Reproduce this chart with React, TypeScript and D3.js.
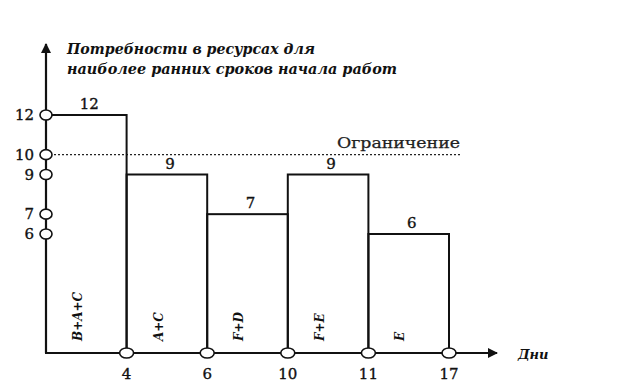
import React from "react";
import * as d3 from "d3";

const dayTicks = [0, 4, 6, 10, 11, 17];
const demands = [12, 9, 7, 9, 6];
const workLabels = ["B+A+C", "A+C", "F+D", "F+E", "E"];
const yMarks = [12, 10, 9, 7, 6];
const limitValue = 10;
const titleLines = ["Потребности в ресурсах для", "наиболее ранних сроков начала работ"];
const limitLabel = "Ограничение";
const xAxisLabel = "Дни";

export default function App() {
  const W = 625, H = 383;
  const x = d3.scalePoint<number>().domain(dayTicks).range([46, 449]);
  const y = d3.scaleLinear().domain([0, 12]).range([353, 115]);
  const serif = "DejaVu Serif";
  const bars = demands.map((v, i) => ({
    v,
    x0: x(dayTicks[i])!,
    x1: x(dayTicks[i + 1])!,
    label: workLabels[i],
  }));
  return (
    <svg width={W} height={H} style={{ position: "absolute", left: 0, top: 0, background: "#fff" }}>
      <defs>
        <marker id="arr" viewBox="0 0 10 10" refX="9" refY="5" markerWidth="10" markerHeight="12" markerUnits="userSpaceOnUse" orient="auto">
          <path d="M0,0 L10,5 L0,10 z" fill="#111" />
        </marker>
      </defs>
      <line x1={x(0)} x2={462} y1={y(limitValue)} y2={y(limitValue)} stroke="#222" strokeWidth={1.3} strokeDasharray="2,2" />
      <text x={337} y={y(limitValue) - 7} fontFamily={serif} fontSize={14} fill="#222" stroke="#222" strokeWidth={0.25} textLength={123} lengthAdjust="spacingAndGlyphs">{limitLabel}</text>
      {bars.map((b, i) => (
        <g key={i}>
          <rect x={b.x0} y={y(b.v)} width={b.x1 - b.x0} height={y(0) - y(b.v)} fill="none" stroke="#111" strokeWidth={2} />
          <text x={(b.x0 + b.x1) / 2 + 3} y={y(b.v) - 6} textAnchor="middle" fontFamily={serif} fontSize={15} fill="#111" stroke="#111" strokeWidth={0.35}>{b.v}</text>
          <text transform={`translate(${b.x0 + 36},${341}) rotate(-90)`} fontFamily={serif} fontStyle="italic" fontWeight="bold" fontSize={12} fill="#111">{b.label}</text>
        </g>
      ))}
      <line x1={x(0)} x2={497} y1={y(0)} y2={y(0)} stroke="#111" strokeWidth={2.2} markerEnd="url(#arr)" />
      <line x1={x(0)} x2={x(0)} y1={y(0)} y2={44} stroke="#111" strokeWidth={2.2} markerEnd="url(#arr)" />
      <text x={518} y={y(0) + 6} fontFamily={serif} fontStyle="italic" fontWeight="bold" fontSize={13} fill="#111">{xAxisLabel}</text>
      {titleLines.map((t, i) => (
        <text key={i} x={67} y={54 + i * 20} fontFamily={serif} fontStyle="italic" fontWeight="bold" fontSize={14} fill="#111" textLength={i === 0 ? 248 : 330} lengthAdjust="spacingAndGlyphs">{t}</text>
      ))}
      {yMarks.map((v) => (
        <g key={v}>
          <ellipse cx={x(0)} cy={y(v)} rx={6} ry={5} fill="#fff" stroke="#111" strokeWidth={1.6} />
          <text x={34} y={y(v) + 5} textAnchor="end" fontFamily={serif} fontSize={15} fill="#111" stroke="#111" strokeWidth={0.35}>{v}</text>
        </g>
      ))}
      {dayTicks.slice(1).map((d) => (
        <g key={d}>
          <ellipse cx={x(d)} cy={y(0)} rx={7} ry={5} fill="#fff" stroke="#111" strokeWidth={1.6} />
          <text x={x(d)} y={y(0) + 26} textAnchor="middle" fontFamily={serif} fontSize={15} fill="#111" stroke="#111" strokeWidth={0.35}>{d}</text>
        </g>
      ))}
    </svg>
  );
}
